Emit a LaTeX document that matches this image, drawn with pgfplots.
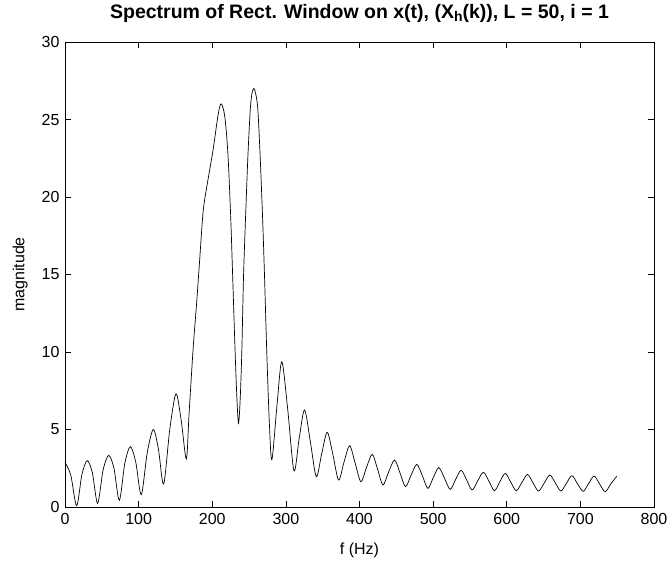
\documentclass[border=0pt]{standalone}
\usepackage{fontspec}
\setmainfont{Liberation Sans}
\usepackage{pgfplots}
\pgfplotsset{compat=1.18}
\begin{document}
\begin{tikzpicture}
\useasboundingbox (-65pt,-61pt) rectangle (605pt,507pt);
\begin{axis}[
  at={(0pt,0pt)}, anchor=south west,
  scale only axis, width=589pt, height=465pt,
  xmin=0, xmax=800, ymin=0, ymax=30,
  xtick={0,100,...,800}, ytick={0,5,...,30},
  tick align=inside, major tick length=6pt,
  axis line style={line width=0.6pt},
  every tick/.style={line width=0.6pt, black},
  /pgf/number format/assume math mode=true,
  ticklabel style={font=\fontsize{16}{19}\selectfont},
  xticklabel style={yshift=-3pt},
  yticklabel style={xshift=-2pt},
  xlabel={f (Hz)}, ylabel={magnitude},
  every axis x label/.style={at={(axis description cs:0.5,-0.093)}, anchor=center, font=\fontsize{16}{19}\selectfont},
  every axis y label/.style={at={(axis description cs:-0.076,0.5)}, anchor=center, rotate=90, font=\fontsize{16}{19}\selectfont},
  title={\bfseries Spectrum of Rect. Window on x(t), (X\raisebox{-0.35ex}{\fontsize{14}{16}\selectfont h}(k)), L = 50, i = 1},
  every axis title/.style={at={(axis description cs:0.5,1)}, anchor=center, yshift=29pt, font=\fontsize{19.5}{23}\selectfont},
]
\addplot[black, line width=0.7pt, smooth, tension=0.5] coordinates {
(0,2.88) (7.9,2.05) (15.8,0.08) (23,2.1) (30.2,2.99) (37.2,2.2) (44.3,0.24)
(51.8,2.4) (59.3,3.33) (66.5,2.5) (73.8,0.43) (81.2,2.8) (88.7,3.89) (96.1,2.9)
(103.6,0.8) (111.7,3.5) (119.9,5.0) (127,3.7) (134,1.48) (142.3,5.0) (150.7,7.3)
(157.8,5.6) (164.8,3.1) (168.5,6.0) (174,10.2) (178.7,13.1) (183,16.0) (187.5,19.0)
(192,20.5) (201,23.0) (207.6,25.2) (211.5,26.0) (215,25.7) (218,24.8) (221.5,22.6)
(225,18.8) (228,14.5) (231,10.1) (233.5,7.0) (235.7,5.4) (238,7.0) (240.2,10.1)
(242.5,14.9) (245.5,19.0) (248.4,22.6) (251.6,25.6) (254,26.7) (256.6,27.0)
(259.3,26.6) (262,25.6) (265.1,22.6) (268.5,18.5) (271,14.9) (274,10.1) (277.5,5.5)
(281,3.05) (288,6.6) (294.5,9.37) (302.5,6.3) (311,2.34) (318,4.4) (325.4,6.26)
(333.3,4.2) (341.3,1.96) (348.7,3.45) (356.2,4.82) (364,3.35) (371.6,1.74)
(379,2.9) (386.6,3.96) (394,2.85) (401.9,1.63) (409.5,2.55) (417.3,3.4) (424.5,2.45)
(431.8,1.42) (439.5,2.25) (447.6,3.03) (455,2.2) (462.5,1.31) (470,2.05) (477.9,2.75)
(485.5,2.0) (492.9,1.2) (500,1.87) (507.7,2.54) (515.5,1.85) (523.2,1.14) (530.5,1.77)
(538.1,2.37) (545.5,1.75) (553,1.1) (560.5,1.68) (568.3,2.24) (576,1.65) (583.3,1.05)
(590.5,1.62) (598,2.17) (605.5,1.6) (613,1.05) (620.5,1.58) (628.2,2.1) (635.5,1.57)
(643.2,1.03) (651,1.55) (658.6,2.06) (666,1.55) (673.5,1.03) (681,1.52) (688.5,2.02)
(696,1.51) (703.8,1.01) (711,1.5) (718.7,2.0) (726,1.5) (733.7,0.99) (741.5,1.5)
(749.5,1.99)
};
\end{axis}
\end{tikzpicture}
\end{document}
